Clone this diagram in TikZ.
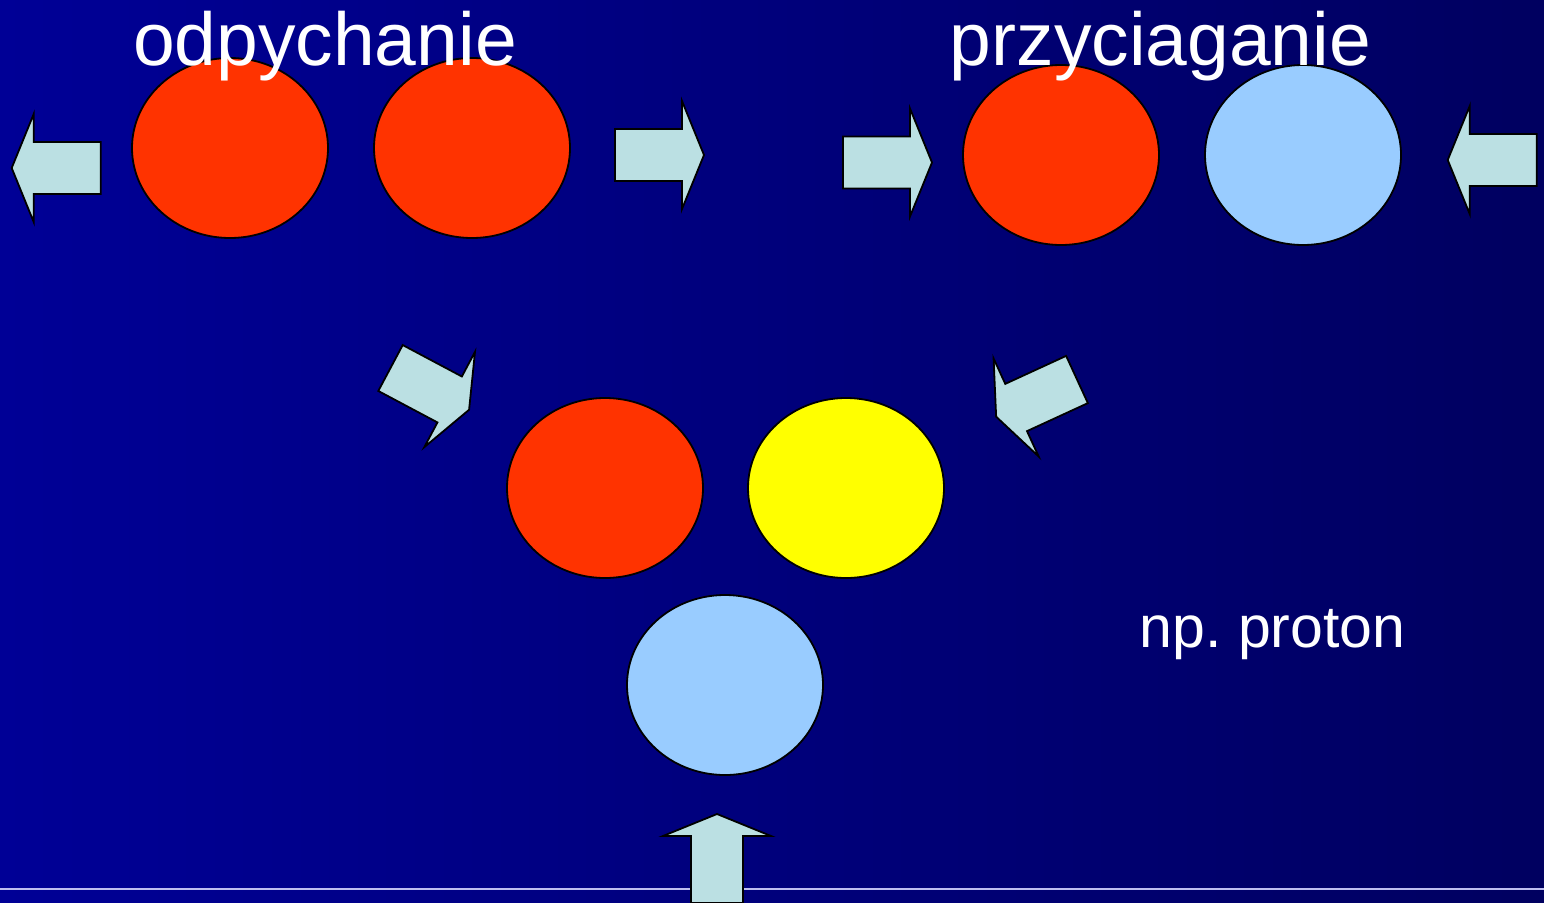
\documentclass[tikz,border=0pt]{standalone}
\usepackage{fontspec}
\setmainfont{Liberation Sans}
\definecolor{bgleft}{RGB}{0,0,150}
\definecolor{bgright}{RGB}{0,0,96}
\definecolor{ballred}{RGB}{255,51,0}
\definecolor{ballblue}{RGB}{153,204,255}
\definecolor{ballyellow}{RGB}{255,255,0}
\definecolor{arrowfill}{RGB}{187,224,227}
\definecolor{rulecol}{RGB}{190,190,240}
\frenchspacing
\begin{document}
\begin{tikzpicture}[x=1pt,y=-1pt,
  ball/.style={draw=black,line width=1.8pt},
  arrowbody/.style={draw=black,fill=arrowfill,line width=1.8pt,line join=miter},
  label/.style={text=white,inner sep=0pt,anchor=base},
  blockarrow/.pic={\path[arrowbody] (0,26) -- (67,26) -- (67,54) -- (89,0) -- (67,-54) -- (67,-26) -- (0,-26) -- cycle;}
]
\useasboundingbox (0,0) rectangle (1544,902);
\shade[left color=bgleft,right color=bgright] (0,0) rectangle (1544,902);
\draw[rulecol,line width=2pt] (0,889) -- (1544,889);
% balls
\path[ball,fill=ballred] (230,148) ellipse [x radius=98,y radius=90];
\path[ball,fill=ballred] (472,148) ellipse [x radius=98,y radius=90];
\path[ball,fill=ballred] (1061,155) ellipse [x radius=98,y radius=90];
\path[ball,fill=ballblue] (1303,155) ellipse [x radius=98,y radius=90];
\path[ball,fill=ballred] (605,488) ellipse [x radius=98,y radius=90];
\path[ball,fill=ballyellow] (846,488) ellipse [x radius=98,y radius=90];
\path[ball,fill=ballblue] (725,685) ellipse [x radius=98,y radius=90];
% arrows
\pic[shift={(100.7,168)},rotate=180] {blockarrow};
\pic[shift={(615,155)}] {blockarrow};
\pic[shift={(843,162.5)}] {blockarrow};
\pic[shift={(1536.7,160)},rotate=180] {blockarrow};
\pic[shift={(390.5,368)},rotate=-28] {blockarrow};
\pic[shift={(1077,379.5)},rotate=204.7] {blockarrow};
\pic[shift={(717,903)},rotate=90] {blockarrow};
% labels
\node[label,font=\fontsize{75}{80}\selectfont] (t1) at (325,65) {odpychanie};
\node[label,font=\fontsize{75}{80}\selectfont] (t2) at (1160.5,65) {przyciaganie};
\node[label,font=\fontsize{59}{65}\selectfont] (t3) at (1272.5,647) {np. proton};
\end{tikzpicture}
\end{document}
